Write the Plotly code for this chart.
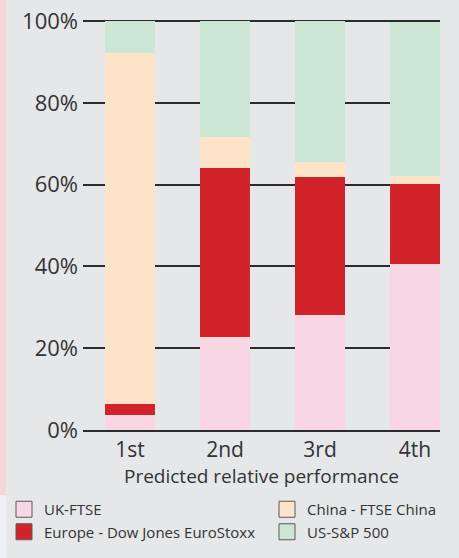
import plotly.graph_objects as go

categories = ["1st", "2nd", "3rd", "4th"]
uk_ftse = [3.7, 22.7, 28.1, 40.6]
europe = [2.7, 41.3, 33.7, 19.7]
china = [85.9, 7.6, 3.7, 1.9]
us_sp = [7.7, 28.4, 34.5, 37.5]
y_ticks = [0, 20, 40, 60, 80, 100]
y_tick_labels = ["0%", "20%", "40%", "60%", "80%", "100%"]

W, H = 459, 558
ML, MR, MT, MB = 83, 19, 20, 128
FONT = "Open Sans"
TXT = "#333333"
GRID = "#2b2b2b"

series = [
    ("UK-FTSE", uk_ftse, "#f9d6e4", "legend", 1),
    ("Europe - Dow Jones EuroStoxx", europe, "#d2232a", "legend", 2),
    ("China - FTSE China", china, "#fde3c8", "legend2", 1),
    ("US-S&P 500", us_sp, "#cbe6d5", "legend2", 2),
]

fig = go.Figure()
for name, vals, col, leg, rank in series:
    fig.add_trace(go.Bar(
        x=categories, y=vals, name=name, width=0.526,
        marker=dict(color=col, line=dict(width=0)),
        showlegend=False,
    ))
# legend entries (square swatches with a dark outline)
for name, vals, col, leg, rank in series:
    fig.add_trace(go.Scatter(
        x=[None], y=[None], name=name, mode="markers",
        marker=dict(symbol="square", size=16, color=col,
                    line=dict(color="#5a5a5a", width=1)),
        legend=leg, legendrank=rank, hoverinfo="skip",
    ))

pw = W - ML - MR
ph = H - MT - MB
def px_x(p):
    return (p - ML) / pw
def px_y(p):
    return (H - MB - p) / ph

fig.add_shape(type="rect", xref="paper", yref="paper",
              x0=px_x(0), x1=px_x(6), y0=px_y(495), y1=px_y(0),
              fillcolor="#f5d6d9", line=dict(width=0), layer="below")
fig.add_shape(type="rect", xref="paper", yref="paper",
              x0=px_x(0), x1=px_x(6), y0=px_y(H), y1=px_y(495),
              fillcolor="#eef0f6", line=dict(width=0), layer="below")

legend_common = dict(
    orientation="v", bgcolor="rgba(0,0,0,0)",
    font=dict(family=FONT, size=15, color=TXT),
    xanchor="left", yanchor="top", tracegroupgap=0,
    itemwidth=30, traceorder="normal", itemsizing="trace",
)

fig.update_layout(
    width=W, height=H,
    margin=dict(l=ML, r=MR, t=MT, b=MB, autoexpand=False),
    paper_bgcolor="#e6e7e9", plot_bgcolor="#e6e7e9",
    barmode="stack", bargap=0,
    font=dict(family=FONT, color=TXT),
    showlegend=True,
    legend=dict(**legend_common, x=px_x(4), y=px_y(493)),
    legend2=dict(**legend_common, x=px_x(267), y=px_y(493)),
    xaxis=dict(
        range=[-0.495, 3.263], showgrid=False, zeroline=False,
        showline=True, linecolor=GRID, linewidth=1.5,
        tickfont=dict(family=FONT, size=21, color=TXT),
        title=dict(text="Predicted relative performance",
                   font=dict(family=FONT, size=19, color=TXT), standoff=0),
        ticklabelstandoff=0,
    ),
    yaxis=dict(
        range=[0, 100.3], tickvals=y_ticks, ticktext=y_tick_labels,
        showgrid=True, gridcolor=GRID, gridwidth=1.5,
        zeroline=False, showline=False,
        tickfont=dict(family=FONT, size=22, color=TXT),
        ticklabelstandoff=4,
    ),
)

fig.write_html("out.html")
